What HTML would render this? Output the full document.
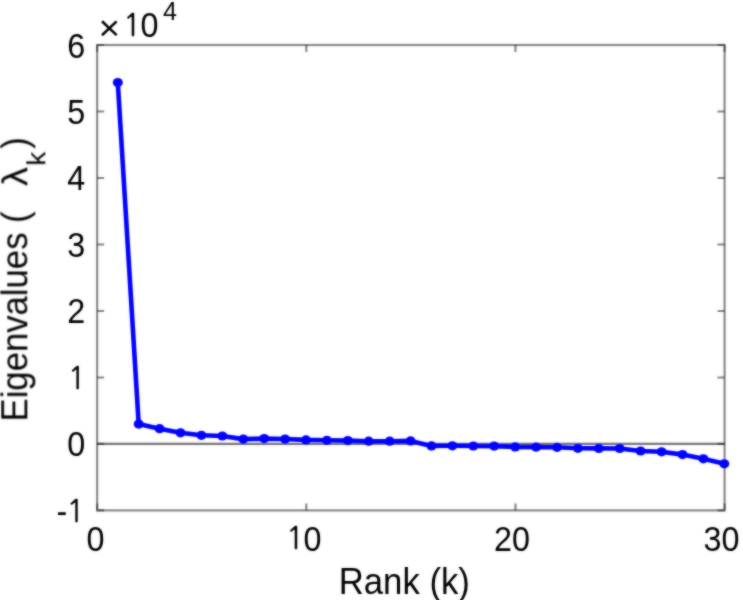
<!DOCTYPE html>
<html lang="en">
<head>
<meta charset="utf-8">
<title>Eigenvalues vs Rank</title>
<style>
html,body{margin:0;padding:0;background:#fff;}
body{width:743px;height:600px;overflow:hidden;}
svg{display:block;}
text{font-family:"Liberation Sans",Arial,Helvetica,sans-serif;fill:#050505;}
</style>
</head>
<body>
<svg width="743" height="600" viewBox="0 0 743 600">
<rect x="0" y="0" width="743" height="600" fill="#ffffff"/>
<defs><filter id="soft" x="-5%" y="-5%" width="110%" height="110%"><feGaussianBlur in="SourceGraphic" stdDeviation="0.8" result="b"/><feComposite in="SourceGraphic" in2="b" operator="arithmetic" k1="0" k2="0.45" k3="0.55" k4="0"/></filter></defs>
<g filter="url(#soft)">
<line x1="97.15" y1="443.91" x2="724.60" y2="443.91" stroke="#262626" stroke-width="2.10" stroke-opacity="0.66"/>
<rect x="97.15" y="45.00" width="627.45" height="465.40" fill="none" stroke="#262626" stroke-width="2.10" stroke-opacity="0.56"/>
<path d="M97.15 510.40V503.40M97.15 45.00V52.00M306.30 510.40V503.40M306.30 45.00V52.00M515.45 510.40V503.40M515.45 45.00V52.00M724.60 510.40V503.40M724.60 45.00V52.00M97.15 510.40H104.15M724.60 510.40H717.60M97.15 443.91H104.15M724.60 443.91H717.60M97.15 377.43H104.15M724.60 377.43H717.60M97.15 310.94H104.15M724.60 310.94H717.60M97.15 244.46H104.15M724.60 244.46H717.60M97.15 177.97H104.15M724.60 177.97H717.60M97.15 111.49H104.15M724.60 111.49H717.60M97.15 45.00H104.15M724.60 45.00H717.60" fill="none" stroke="#262626" stroke-width="2.10" stroke-opacity="0.56"/>
<polyline fill="none" stroke="#0000ff" stroke-width="4.6" stroke-linejoin="round" stroke-linecap="round" points="117.8,82.6 138.7,424.1 159.6,428.7 180.5,432.8 201.4,435.3 222.3,436.0 243.3,439.1 264.2,438.6 285.1,439.0 306.0,439.9 326.9,440.3 347.8,440.6 368.7,441.2 389.7,441.2 410.6,440.9 431.5,445.9 452.4,445.8 473.3,446.0 494.2,446.1 515.2,446.9 536.1,447.1 557.0,447.3 577.9,448.3 598.8,448.4 619.7,448.5 640.6,451.0 661.6,451.8 682.5,454.6 703.4,458.8 724.3,463.8"/>
<g fill="#0000ff">
<ellipse cx="117.8" cy="82.6" rx="5" ry="4.6"/>
<ellipse cx="138.7" cy="424.1" rx="5" ry="4.6"/>
<ellipse cx="159.6" cy="428.7" rx="5" ry="4.6"/>
<ellipse cx="180.5" cy="432.8" rx="5" ry="4.6"/>
<ellipse cx="201.4" cy="435.3" rx="5" ry="4.6"/>
<ellipse cx="222.3" cy="436.0" rx="5" ry="4.6"/>
<ellipse cx="243.3" cy="439.1" rx="5" ry="4.6"/>
<ellipse cx="264.2" cy="438.6" rx="5" ry="4.6"/>
<ellipse cx="285.1" cy="439.0" rx="5" ry="4.6"/>
<ellipse cx="306.0" cy="439.9" rx="5" ry="4.6"/>
<ellipse cx="326.9" cy="440.3" rx="5" ry="4.6"/>
<ellipse cx="347.8" cy="440.6" rx="5" ry="4.6"/>
<ellipse cx="368.7" cy="441.2" rx="5" ry="4.6"/>
<ellipse cx="389.7" cy="441.2" rx="5" ry="4.6"/>
<ellipse cx="410.6" cy="440.9" rx="5" ry="4.6"/>
<ellipse cx="431.5" cy="445.9" rx="5" ry="4.6"/>
<ellipse cx="452.4" cy="445.8" rx="5" ry="4.6"/>
<ellipse cx="473.3" cy="446.0" rx="5" ry="4.6"/>
<ellipse cx="494.2" cy="446.1" rx="5" ry="4.6"/>
<ellipse cx="515.2" cy="446.9" rx="5" ry="4.6"/>
<ellipse cx="536.1" cy="447.1" rx="5" ry="4.6"/>
<ellipse cx="557.0" cy="447.3" rx="5" ry="4.6"/>
<ellipse cx="577.9" cy="448.3" rx="5" ry="4.6"/>
<ellipse cx="598.8" cy="448.4" rx="5" ry="4.6"/>
<ellipse cx="619.7" cy="448.5" rx="5" ry="4.6"/>
<ellipse cx="640.6" cy="451.0" rx="5" ry="4.6"/>
<ellipse cx="661.6" cy="451.8" rx="5" ry="4.6"/>
<ellipse cx="682.5" cy="454.6" rx="5" ry="4.6"/>
<ellipse cx="703.4" cy="458.8" rx="5" ry="4.6"/>
<ellipse cx="724.3" cy="463.8" rx="5" ry="4.6"/>
</g>
<text transform="translate(86.57 550.70) scale(1.000 1.100)" font-size="32.30" text-anchor="start">0</text>
<text x="286.03" y="549.00" font-size="29.85" style="font-family:NanumGothic,'Liberation Sans',sans-serif" stroke="#050505" stroke-width="0.4">1</text>
<text transform="translate(303.50 550.70) scale(1.000 1.100)" font-size="32.30" text-anchor="start">0</text>
<text transform="translate(493.99 550.70) scale(1.000 1.100)" font-size="32.30" text-anchor="start">20</text>
<text transform="translate(703.54 550.70) scale(1.000 1.100)" font-size="32.30" text-anchor="start">30</text>
<text transform="translate(67.24 456.41) scale(1.000 1.100)" font-size="32.30" text-anchor="start">0</text>
<text x="67.73" y="389.03" font-size="29.85" style="font-family:NanumGothic,'Liberation Sans',sans-serif" stroke="#050505" stroke-width="0.4">1</text>
<text transform="translate(67.24 323.44) scale(1.000 1.100)" font-size="32.30" text-anchor="start">2</text>
<text transform="translate(67.24 256.96) scale(1.000 1.100)" font-size="32.30" text-anchor="start">3</text>
<text transform="translate(67.24 190.47) scale(1.000 1.100)" font-size="32.30" text-anchor="start">4</text>
<text transform="translate(67.24 123.99) scale(1.000 1.100)" font-size="32.30" text-anchor="start">5</text>
<text transform="translate(67.24 57.50) scale(1.000 1.100)" font-size="32.30" text-anchor="start">6</text>
<text transform="translate(56.49 522.90) scale(1.000 1.100)" font-size="32.30" text-anchor="start">-</text>
<text x="66.43" y="522.00" font-size="29.85" style="font-family:NanumGothic,'Liberation Sans',sans-serif" stroke="#050505" stroke-width="0.4">1</text>
<text transform="translate(98.60 40.20) scale(1.000 0.930)" font-size="37.00" text-anchor="start">×</text>
<text x="123.09" y="36.30" font-size="29.85" style="font-family:NanumGothic,'Liberation Sans',sans-serif" stroke="#050505" stroke-width="0.4">1</text>
<text transform="translate(140.56 36.90) scale(1.000 1.100)" font-size="32.30" text-anchor="start">0</text>
<text transform="translate(163.00 20.20) scale(1.000 1.060)" font-size="25.20" text-anchor="start">4</text>
<text transform="translate(404.30 593.80) scale(1.000 1.050)" font-size="34.70" text-anchor="middle">Rank (k)</text>
<g transform="translate(27.3 421.5) rotate(-90)">
<text transform="translate(0.00 0.00) scale(1.000 1.050)" font-size="34.70" text-anchor="start">Eigenvalues (</text>
<text transform="translate(235.40 0.00) scale(1.090 1.030)" font-size="34.70" text-anchor="start">λ</text>
<text transform="translate(255.70 17.60) scale(1.020 0.950)" font-size="27.50" text-anchor="start">k</text>
<text transform="translate(272.80 0.00) scale(1.000 1.050)" font-size="34.70" text-anchor="start">)</text>
</g>
</g>
</svg>
</body>
</html>
